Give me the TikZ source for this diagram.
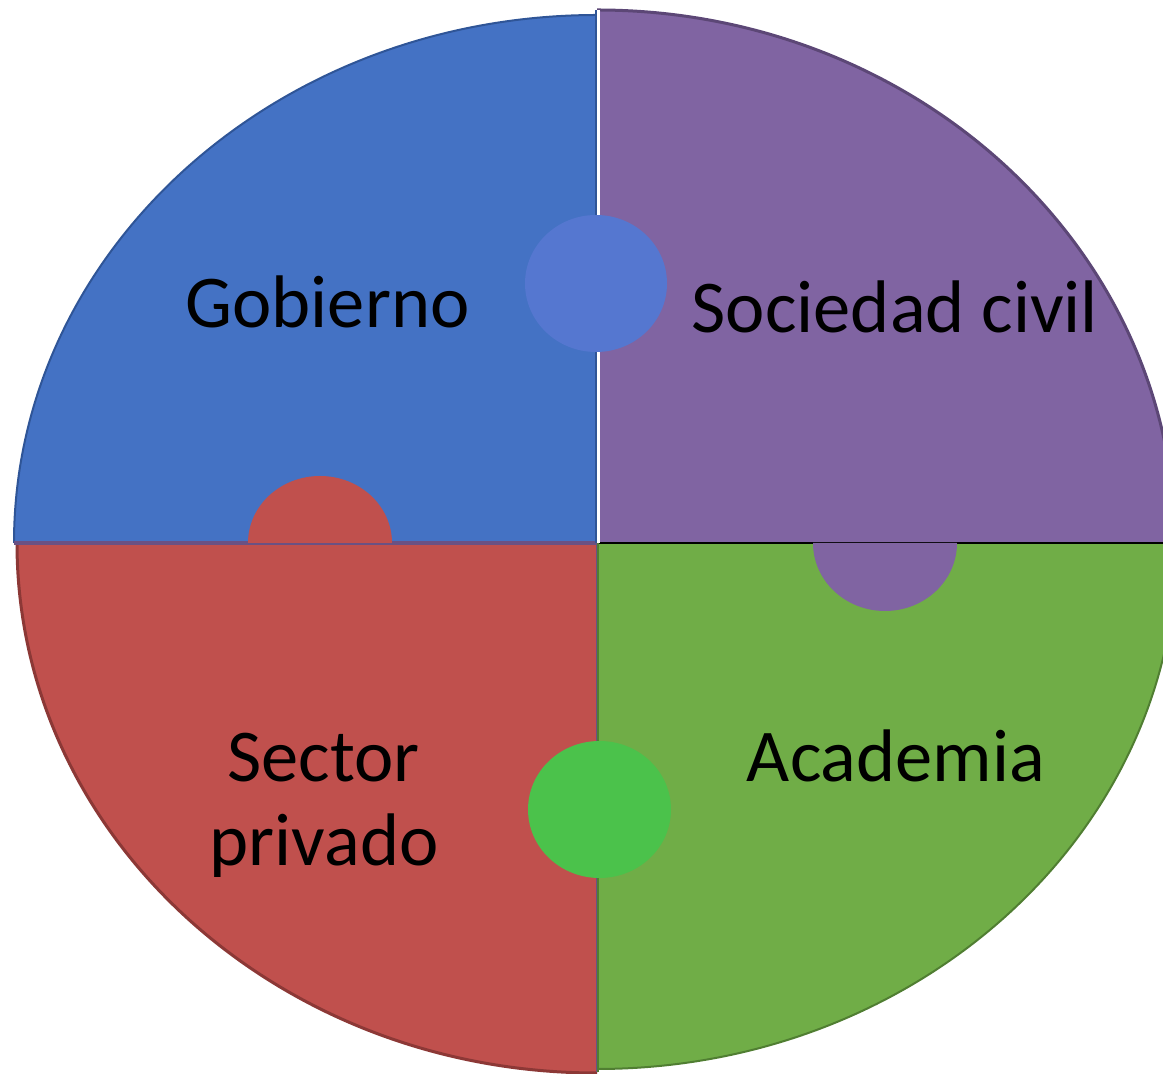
\documentclass[tikz,border=0pt]{standalone}
\usepackage{fontspec}
\setmainfont{Carlito}
\definecolor{qblue}{HTML}{4472C4}
\definecolor{qbluedark}{HTML}{2F5597}
\definecolor{qpurple}{HTML}{8064A2}
\definecolor{qpurpledark}{HTML}{5C4776}
\definecolor{qred}{HTML}{C0504D}
\definecolor{qreddark}{HTML}{8C3836}
\definecolor{qgreen}{HTML}{70AD47}
\definecolor{qgreendark}{HTML}{507E32}
\definecolor{cblue}{HTML}{5577D0}
\definecolor{cgreen}{HTML}{4BC24B}
\definecolor{seamleft}{HTML}{6A5183}
\tikzset{
  lbl/.style={inner sep=0pt, anchor=base, font=\fontsize{74.5}{86}\selectfont, text=black},
  rim/.style={line width=3pt}
}
\begin{document}
\begin{tikzpicture}[x=1pt,y=1pt]
\useasboundingbox (0,0) rectangle (1163,1074);
\coordinate (c) at (597,531);
% quadrants
\fill[qblue] (c) -- (14,531) arc[start angle=180,end angle=90,x radius=583pt,y radius=528pt] -- cycle;
\draw[qbluedark,line width=2pt] (14,531) arc[start angle=180,end angle=90,x radius=583pt,y radius=528pt];
\fill[qpurple] (c) -- (597,1064) arc[start angle=90,end angle=0,x radius=578pt,y radius=533pt] -- cycle;
\draw[qpurpledark,rim] (597,1064) arc[start angle=90,end angle=0,x radius=578pt,y radius=533pt];
\fill[qred] (c) -- (17,531) arc[start angle=180,end angle=270,x radius=580pt,y radius=530pt] -- cycle;
\draw[qreddark,rim] (17,531) arc[start angle=180,end angle=270,x radius=580pt,y radius=530pt];
\fill[qgreen] (c) -- (597,5) arc[start angle=270,end angle=360,x radius=580pt,y radius=526pt] -- cycle;
\draw[qgreendark,line width=2pt] (597,5) arc[start angle=270,end angle=360,x radius=580pt,y radius=526pt];
% seams
\coordinate (wl) at (14,531);
\coordinate (er) at (1163,531);
\coordinate (nt) at (597,1064);
\coordinate (sb) at (597,2);
\draw[seamleft,line width=3.5pt] (wl) -- (c);
\draw[black,line width=2.5pt] (c) -- (er);
\draw[white,line width=3pt] ([xshift=1.5pt]c) -- ([xshift=1.5pt]nt);
\draw[qbluedark,line width=2pt] ([xshift=-1.5pt]c) -- ([xshift=-1.5pt]nt);
\draw[seamleft,line width=1.5pt] ([xshift=-0.5pt]c) -- ([xshift=-0.5pt]sb);
\draw[qgreendark,line width=1.5pt] ([xshift=1pt]c) -- ([xshift=1pt]sb);
% puzzle tabs
\fill[qred] (248,531) arc[start angle=180,end angle=0,x radius=72pt,y radius=67pt] -- cycle;
\fill[qpurple] (813,531) arc[start angle=180,end angle=360,x radius=72pt,y radius=68pt] -- cycle;
\fill[cblue] (596,790.5) ellipse[x radius=71pt,y radius=68.5pt];
\fill[cgreen] (599.5,264.5) ellipse[x radius=71.5pt,y radius=68.5pt];
% labels
\node[lbl] (gob) at (327.5,746) {Gobierno};
\node[lbl] (soc) at (895,741) {Sociedad civil};
\node[lbl] (sec1) at (323.5,292) {Sector};
\node[lbl] (sec2) at (324,208) {privado};
\node[lbl] (aca) at (896,292) {Academia};
\end{tikzpicture}
\end{document}
